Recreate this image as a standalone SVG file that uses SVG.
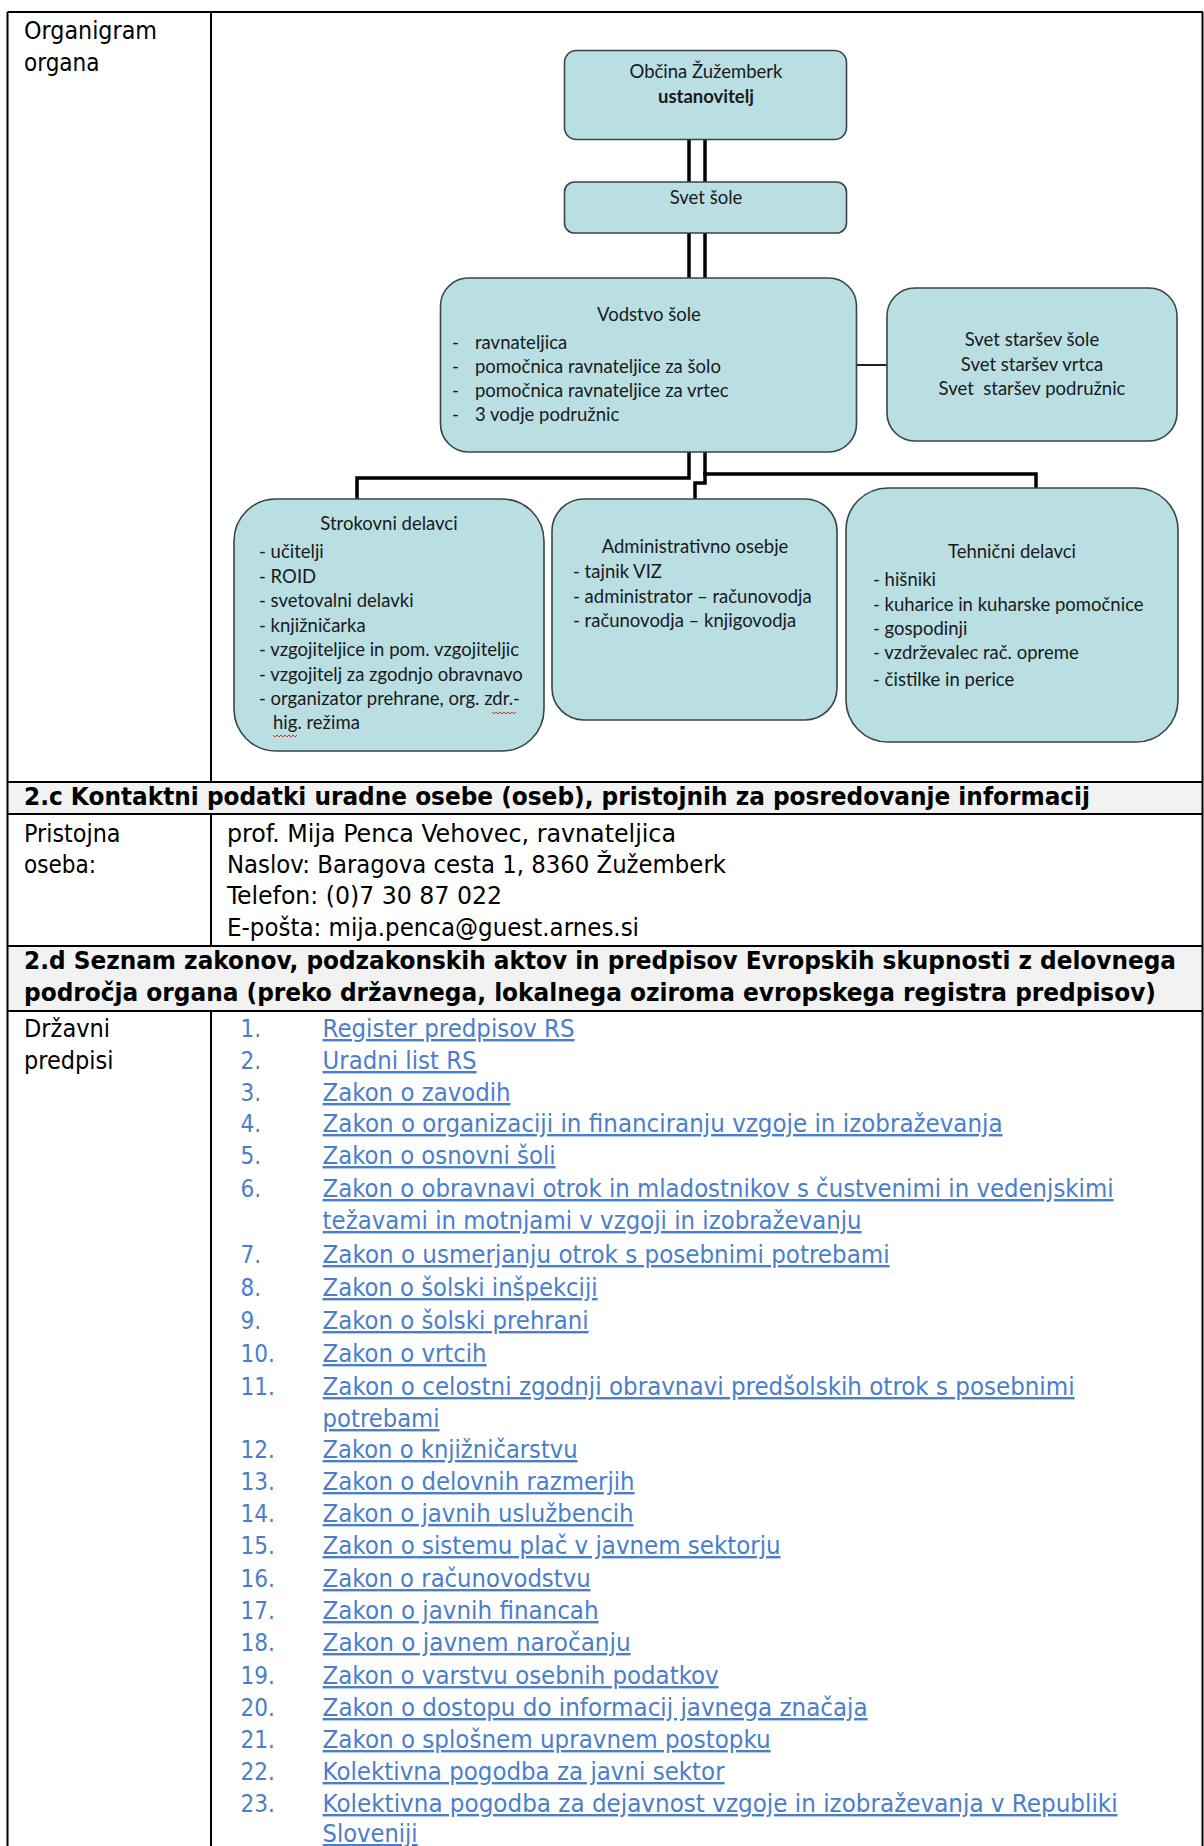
<svg xmlns="http://www.w3.org/2000/svg" width="1204" height="1846" viewBox="0 0 1204 1846">
<style>
.t{font-family:'DejaVu Sans Condensed','DejaVu Sans',sans-serif;font-stretch:condensed;font-size:24px;fill:#000}
.h{font-family:'DejaVu Sans Condensed','DejaVu Sans',sans-serif;font-stretch:condensed;font-size:24px;font-weight:bold;fill:#000}
.num{font-family:'DejaVu Sans Condensed','DejaVu Sans',sans-serif;font-stretch:condensed;font-size:24px;fill:#4a7ecb}
.lnk{font-family:'DejaVu Sans Condensed','DejaVu Sans',sans-serif;font-stretch:condensed;font-size:24px;fill:#4a7ecb;text-decoration:underline}
.grid{stroke:#000;stroke-width:2;fill:none}
.hdr{fill:#f2f2f2}
.box{fill:#b9dfe3;stroke:#3a4446;stroke-width:1.6}
.c{font-family:Lato,'Open Sans',sans-serif;font-size:18.5px;fill:#1a1a1a}
.cm{text-anchor:middle}
.b{font-weight:bold}
.ln{stroke:#000;stroke-width:3.5;fill:none}
.thin{stroke:#222;stroke-width:2;fill:none}
.wavy{stroke:#e03030;stroke-width:1;fill:none}
</style>
<rect width="1204" height="1846" fill="#fff"/>

<g id="table">
<rect class="hdr" x="7.5" y="782" width="1195" height="32"/>
<rect class="hdr" x="7.5" y="946" width="1195" height="65"/>
<path class="grid" d="M7.5 12H1203M7.5 12V1846M1202.5 12V1846M211 12V782M211 814V946M211 1011V1846M7.5 782H1203M7.5 814H1203M7.5 946H1203M7.5 1011H1203"/>
<text class="t" x="24" y="39" textLength="133" lengthAdjust="spacingAndGlyphs">Organigram</text>
<text class="t" x="24" y="71">organa</text>
<text class="h" x="24" y="805" textLength="1066" lengthAdjust="spacingAndGlyphs">2.c Kontaktni podatki uradne osebe (oseb), pristojnih za posredovanje informacij</text>
<text class="t" x="24" y="841.5" textLength="96.5" lengthAdjust="spacingAndGlyphs">Pristojna</text>
<text class="t" x="24" y="873">oseba:</text>
<text class="t" x="227" y="841.5" textLength="449" lengthAdjust="spacingAndGlyphs">prof. Mija Penca Vehovec, ravnateljica</text>
<text class="t" x="227" y="873" textLength="499" lengthAdjust="spacingAndGlyphs">Naslov: Baragova cesta 1, 8360 Žužemberk</text>
<text class="t" x="227" y="904" textLength="275" lengthAdjust="spacingAndGlyphs">Telefon: (0)7 30 87 022</text>
<text class="t" x="227" y="935.5" textLength="412" lengthAdjust="spacingAndGlyphs">E-pošta: mija.penca@guest.arnes.si</text>
<text class="h" x="24" y="969" textLength="1152" lengthAdjust="spacingAndGlyphs">2.d Seznam zakonov, podzakonskih aktov in predpisov Evropskih skupnosti z delovnega</text>
<text class="h" x="24" y="1001" textLength="1132" lengthAdjust="spacingAndGlyphs">področja organa (preko državnega, lokalnega oziroma evropskega registra predpisov)</text>
<text class="t" x="24" y="1037" textLength="86" lengthAdjust="spacingAndGlyphs">Državni</text>
<text class="t" x="24" y="1069" textLength="89.5" lengthAdjust="spacingAndGlyphs">predpisi</text>
</g>

<g id="list">
<g class="num">
<text x="240.5" y="1037">1.</text>
<text x="240.5" y="1069">2.</text>
<text x="240.5" y="1101">3.</text>
<text x="240.5" y="1132">4.</text>
<text x="240.5" y="1164">5.</text>
<text x="240.5" y="1197">6.</text>
<text x="240.5" y="1263">7.</text>
<text x="240.5" y="1296">8.</text>
<text x="240.5" y="1329">9.</text>
<text x="240.5" y="1362">10.</text>
<text x="240.5" y="1395">11.</text>
<text x="240.5" y="1458">12.</text>
<text x="240.5" y="1490">13.</text>
<text x="240.5" y="1522">14.</text>
<text x="240.5" y="1554">15.</text>
<text x="240.5" y="1587">16.</text>
<text x="240.5" y="1619">17.</text>
<text x="240.5" y="1651">18.</text>
<text x="240.5" y="1684">19.</text>
<text x="240.5" y="1716">20.</text>
<text x="240.5" y="1748">21.</text>
<text x="240.5" y="1780">22.</text>
<text x="240.5" y="1812">23.</text>
</g>
<g class="lnk">
<text x="322.6" y="1037" textLength="252" lengthAdjust="spacingAndGlyphs">Register predpisov RS</text>
<text x="322.6" y="1069" textLength="154" lengthAdjust="spacingAndGlyphs">Uradni list RS</text>
<text x="322.6" y="1101" textLength="188" lengthAdjust="spacingAndGlyphs">Zakon o zavodih</text>
<text x="322.6" y="1132" textLength="680" lengthAdjust="spacingAndGlyphs">Zakon o organizaciji in financiranju vzgoje in izobraževanja</text>
<text x="322.6" y="1164" textLength="233" lengthAdjust="spacingAndGlyphs">Zakon o osnovni šoli</text>
<text x="322.6" y="1197" textLength="791" lengthAdjust="spacingAndGlyphs">Zakon o obravnavi otrok in mladostnikov s čustvenimi in vedenjskimi</text>
<text x="322.6" y="1229" textLength="539" lengthAdjust="spacingAndGlyphs">težavami in motnjami v vzgoji in izobraževanju</text>
<text x="322.6" y="1263" textLength="567" lengthAdjust="spacingAndGlyphs">Zakon o usmerjanju otrok s posebnimi potrebami</text>
<text x="322.6" y="1296" textLength="275" lengthAdjust="spacingAndGlyphs">Zakon o šolski inšpekciji</text>
<text x="322.6" y="1329" textLength="266" lengthAdjust="spacingAndGlyphs">Zakon o šolski prehrani</text>
<text x="322.6" y="1362" textLength="164" lengthAdjust="spacingAndGlyphs">Zakon o vrtcih</text>
<text x="322.6" y="1395" textLength="752" lengthAdjust="spacingAndGlyphs">Zakon o celostni zgodnji obravnavi predšolskih otrok s posebnimi</text>
<text x="322.6" y="1427" textLength="117" lengthAdjust="spacingAndGlyphs">potrebami</text>
<text x="322.6" y="1458" textLength="255" lengthAdjust="spacingAndGlyphs">Zakon o knjižničarstvu</text>
<text x="322.6" y="1490" textLength="312" lengthAdjust="spacingAndGlyphs">Zakon o delovnih razmerjih</text>
<text x="322.6" y="1522" textLength="311" lengthAdjust="spacingAndGlyphs">Zakon o javnih uslužbencih</text>
<text x="322.6" y="1554" textLength="458" lengthAdjust="spacingAndGlyphs">Zakon o sistemu plač v javnem sektorju</text>
<text x="322.6" y="1587" textLength="268" lengthAdjust="spacingAndGlyphs">Zakon o računovodstvu</text>
<text x="322.6" y="1619" textLength="276" lengthAdjust="spacingAndGlyphs">Zakon o javnih financah</text>
<text x="322.6" y="1651" textLength="308" lengthAdjust="spacingAndGlyphs">Zakon o javnem naročanju</text>
<text x="322.6" y="1684" textLength="396" lengthAdjust="spacingAndGlyphs">Zakon o varstvu osebnih podatkov</text>
<text x="322.6" y="1716" textLength="545" lengthAdjust="spacingAndGlyphs">Zakon o dostopu do informacij javnega značaja</text>
<text x="322.6" y="1748" textLength="448" lengthAdjust="spacingAndGlyphs">Zakon o splošnem upravnem postopku</text>
<text x="322.6" y="1780" textLength="402" lengthAdjust="spacingAndGlyphs">Kolektivna pogodba za javni sektor</text>
<text x="322.6" y="1812" textLength="795" lengthAdjust="spacingAndGlyphs">Kolektivna pogodba za dejavnost vzgoje in izobraževanja v Republiki</text>
<text x="322.6" y="1842" textLength="95" lengthAdjust="spacingAndGlyphs">Sloveniji</text>
</g>
</g>

<g id="connectors">
<path class="ln" d="M689 140V182M705 140V182"/>
<path class="ln" d="M689 233V278M705 233V278"/>
<path class="thin" d="M856 365H887"/>
<path class="ln" d="M689 452V478H357V499"/>
<path class="ln" d="M705 452V474H1036V488"/>
<path class="ln" d="M705 472V483H695V499"/>
</g>

<g id="n-obcina">
<rect class="box" x="564.5" y="50.5" width="282" height="89" rx="12"/>
<text class="c cm" x="706" y="78">Občina Žužemberk</text>
<text class="c cm b" x="706" y="103">ustanovitelj</text>
</g>

<g id="n-svet-sole">
<rect class="box" x="564.5" y="182" width="282" height="51" rx="10"/>
<text class="c cm" x="706" y="204">Svet šole</text>
</g>

<g id="n-vodstvo">
<rect class="box" x="440.5" y="278" width="416" height="174" rx="28"/>
<text class="c cm" x="649" y="321">Vodstvo šole</text>
<text class="c" x="452" y="349">-</text><text class="c" x="475" y="349">ravnateljica</text>
<text class="c" x="452" y="373">-</text><text class="c" x="475" y="373">pomočnica ravnateljice za šolo</text>
<text class="c" x="452" y="397">-</text><text class="c" x="475" y="397">pomočnica ravnateljice za vrtec</text>
<text class="c" x="452" y="421">-</text><text class="c" x="475" y="421">3 vodje podružnic</text>
</g>

<g id="n-svet-starsev">
<rect class="box" x="887" y="288" width="290" height="153" rx="28"/>
<text class="c cm" x="1032" y="346">Svet staršev šole</text>
<text class="c cm" x="1032" y="371">Svet staršev vrtca</text>
<text class="c cm" x="1032" y="395" style="white-space:pre">Svet  staršev podružnic</text>
</g>

<g id="n-strokovni">
<rect class="box" x="234" y="499" width="310" height="252" rx="42"/>
<text class="c cm" x="389" y="530">Strokovni delavci</text>
<text class="c" x="259" y="558">- učitelji</text>
<text class="c" x="259" y="583">- ROID</text>
<text class="c" x="259" y="607">- svetovalni delavki</text>
<text class="c" x="259" y="632">- knjižničarka</text>
<text class="c" x="259" y="656">- vzgojiteljice in pom. vzgojiteljic</text>
<text class="c" x="259" y="681">- vzgojitelj za zgodnjo obravnavo</text>
<text class="c" x="259" y="705">- organizator prehrane, org. zdr.-</text>
<text class="c" x="273" y="729">hig. režima</text>
<path class="wavy" d="M492 712l2 2l2-2l2 2l2-2l2 2l2-2l2 2l2-2l2 2l2-2l2 2l2-2"/>
<path class="wavy" d="M273 735l2 2l2-2l2 2l2-2l2 2l2-2l2 2l2-2l2 2l2-2l2 2l2-2"/>
</g>

<g id="n-administrativno">
<rect class="box" x="552" y="499" width="285" height="221" rx="32"/>
<text class="c cm" x="695" y="553">Administrativno osebje</text>
<text class="c" x="573" y="578">- tajnik VIZ</text>
<text class="c" x="573" y="603">- administrator – računovodja</text>
<text class="c" x="573" y="627">- računovodja – knjigovodja</text>
</g>

<g id="n-tehnicni">
<rect class="box" x="846" y="488" width="332" height="254" rx="42"/>
<text class="c cm" x="1012" y="558">Tehnični delavci</text>
<text class="c" x="873" y="586">- hišniki</text>
<text class="c" x="873" y="611">- kuharice in kuharske pomočnice</text>
<text class="c" x="873" y="635">- gospodinji</text>
<text class="c" x="873" y="659">- vzdrževalec rač. opreme</text>
<text class="c" x="873" y="686">- čistilke in perice</text>
</g>
</svg>
